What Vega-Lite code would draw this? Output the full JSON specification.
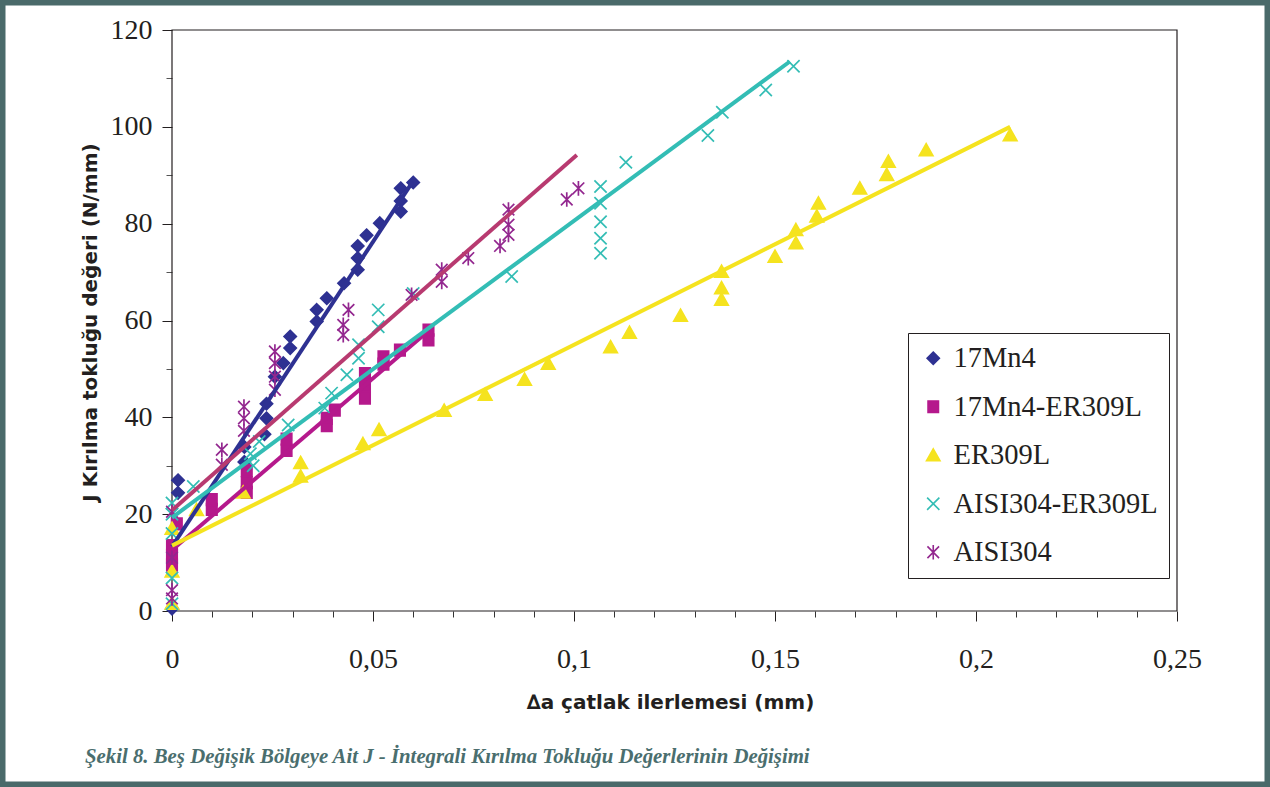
{
  "$schema": "https://vega.github.io/schema/vega-lite/v6.json",
  "width": 1270,
  "height": 787,
  "autosize": {"type": "none"},
  "padding": 0,
  "background": "white",
  "config": {
    "view": {"stroke": "#4A6A6A", "strokeWidth": 11, "fill": "white"},
    "axis": {"grid": false, "domain": false, "labelFont": "Liberation Serif", "labelFontSize": 28, "labelColor": "#231F20", "tickColor": "#231F20", "tickWidth": 1, "titleFont": "DejaVu Sans", "titleFontWeight": "bold", "titleFontSize": 20, "titleColor": "#231F20", "labelOverlap": false, "labelFlush": false},
    "legend": {"orient": "none", "legendX": 908, "legendY": 333, "padding": 11, "strokeColor": "#231F20", "strokeWidth": 1, "fillColor": "white", "labelFont": "Liberation Serif", "labelFontSize": 28.5, "labelColor": "#231F20", "symbolSize": 150, "symbolStrokeWidth": 1.6, "rowPadding": 19.5, "labelOffset": 6, "symbolOffset": 0, "labelLimit": 400}
  },
  "title": {
    "text": "Şekil 8. Beş Değişik Bölgeye Ait J - İntegrali Kırılma Tokluğu Değerlerinin Değişimi",
    "orient": "bottom", "anchor": "start", "frame": "group",
    "font": "Liberation Serif", "fontSize": 20.8, "fontStyle": "italic", "fontWeight": "bold",
    "color": "#4A6E6E", "offset": -30, "dx": 85, "baseline": "middle"
  },
  "datasets": {
    "pts": [
      {"s": "17Mn4", "x": 0, "y": 0.5},
      {"s": "17Mn4", "x": 0.0015, "y": 24.4},
      {"s": "17Mn4", "x": 0.0015, "y": 27},
      {"s": "17Mn4", "x": 0.018, "y": 30.8},
      {"s": "17Mn4", "x": 0.018, "y": 33.9},
      {"s": "17Mn4", "x": 0.023, "y": 36.5},
      {"s": "17Mn4", "x": 0.0235, "y": 39.8},
      {"s": "17Mn4", "x": 0.0235, "y": 42.8},
      {"s": "17Mn4", "x": 0.0256, "y": 48.4},
      {"s": "17Mn4", "x": 0.0277, "y": 51.2},
      {"s": "17Mn4", "x": 0.0294, "y": 54.3},
      {"s": "17Mn4", "x": 0.0294, "y": 56.7},
      {"s": "17Mn4", "x": 0.036, "y": 59.8},
      {"s": "17Mn4", "x": 0.036, "y": 62.2},
      {"s": "17Mn4", "x": 0.0385, "y": 64.6},
      {"s": "17Mn4", "x": 0.0428, "y": 67.7},
      {"s": "17Mn4", "x": 0.0462, "y": 70.5},
      {"s": "17Mn4", "x": 0.0462, "y": 72.9},
      {"s": "17Mn4", "x": 0.0462, "y": 75.4},
      {"s": "17Mn4", "x": 0.0484, "y": 77.6},
      {"s": "17Mn4", "x": 0.0517, "y": 80.1},
      {"s": "17Mn4", "x": 0.0569, "y": 82.5},
      {"s": "17Mn4", "x": 0.0569, "y": 84.7},
      {"s": "17Mn4", "x": 0.0569, "y": 87.3},
      {"s": "17Mn4", "x": 0.06, "y": 88.5},
      {"s": "17Mn4-ER309L", "x": 0, "y": 9.5},
      {"s": "17Mn4-ER309L", "x": 0, "y": 11.5},
      {"s": "17Mn4-ER309L", "x": 0, "y": 13.5},
      {"s": "17Mn4-ER309L", "x": 0.0012, "y": 18},
      {"s": "17Mn4-ER309L", "x": 0.0099, "y": 21},
      {"s": "17Mn4-ER309L", "x": 0.0099, "y": 23},
      {"s": "17Mn4-ER309L", "x": 0.0186, "y": 24.5},
      {"s": "17Mn4-ER309L", "x": 0.0186, "y": 26.5},
      {"s": "17Mn4-ER309L", "x": 0.0186, "y": 29},
      {"s": "17Mn4-ER309L", "x": 0.0285, "y": 33.2},
      {"s": "17Mn4-ER309L", "x": 0.0285, "y": 35.5},
      {"s": "17Mn4-ER309L", "x": 0.0385, "y": 38.3},
      {"s": "17Mn4-ER309L", "x": 0.0385, "y": 39.8},
      {"s": "17Mn4-ER309L", "x": 0.0405, "y": 41.5},
      {"s": "17Mn4-ER309L", "x": 0.048, "y": 44},
      {"s": "17Mn4-ER309L", "x": 0.048, "y": 46.5},
      {"s": "17Mn4-ER309L", "x": 0.048, "y": 49},
      {"s": "17Mn4-ER309L", "x": 0.0526, "y": 51},
      {"s": "17Mn4-ER309L", "x": 0.0526, "y": 52.5},
      {"s": "17Mn4-ER309L", "x": 0.0567, "y": 53.9},
      {"s": "17Mn4-ER309L", "x": 0.0638, "y": 56},
      {"s": "17Mn4-ER309L", "x": 0.0638, "y": 58},
      {"s": "ER309L", "x": 0, "y": 1.5},
      {"s": "ER309L", "x": 0, "y": 8.2},
      {"s": "ER309L", "x": 0, "y": 17},
      {"s": "ER309L", "x": 0.0061, "y": 20.9},
      {"s": "ER309L", "x": 0.0177, "y": 24.5},
      {"s": "ER309L", "x": 0.032, "y": 27.8},
      {"s": "ER309L", "x": 0.032, "y": 30.6},
      {"s": "ER309L", "x": 0.0475, "y": 34.5},
      {"s": "ER309L", "x": 0.0515, "y": 37.4},
      {"s": "ER309L", "x": 0.0677, "y": 41.4},
      {"s": "ER309L", "x": 0.0779, "y": 44.7},
      {"s": "ER309L", "x": 0.0877, "y": 47.8},
      {"s": "ER309L", "x": 0.0936, "y": 51.1},
      {"s": "ER309L", "x": 0.1091, "y": 54.5},
      {"s": "ER309L", "x": 0.1138, "y": 57.5},
      {"s": "ER309L", "x": 0.1265, "y": 61},
      {"s": "ER309L", "x": 0.1367, "y": 64.3},
      {"s": "ER309L", "x": 0.1367, "y": 66.7},
      {"s": "ER309L", "x": 0.1367, "y": 70.1},
      {"s": "ER309L", "x": 0.15, "y": 73.2},
      {"s": "ER309L", "x": 0.1552, "y": 76},
      {"s": "ER309L", "x": 0.1552, "y": 78.7},
      {"s": "ER309L", "x": 0.1604, "y": 81.5},
      {"s": "ER309L", "x": 0.1608, "y": 84.2},
      {"s": "ER309L", "x": 0.1711, "y": 87.3},
      {"s": "ER309L", "x": 0.1778, "y": 90.1},
      {"s": "ER309L", "x": 0.1782, "y": 92.8},
      {"s": "ER309L", "x": 0.1876, "y": 95.2},
      {"s": "ER309L", "x": 0.2085, "y": 98.3},
      {"s": "AISI304-ER309L", "x": 0, "y": 1.5},
      {"s": "AISI304-ER309L", "x": 0, "y": 6.8},
      {"s": "AISI304-ER309L", "x": 0, "y": 16},
      {"s": "AISI304-ER309L", "x": 0, "y": 20},
      {"s": "AISI304-ER309L", "x": 0, "y": 22.3},
      {"s": "AISI304-ER309L", "x": 0.0053, "y": 25.7},
      {"s": "AISI304-ER309L", "x": 0.0195, "y": 32.5},
      {"s": "AISI304-ER309L", "x": 0.0202, "y": 30},
      {"s": "AISI304-ER309L", "x": 0.0217, "y": 35},
      {"s": "AISI304-ER309L", "x": 0.0289, "y": 38.4},
      {"s": "AISI304-ER309L", "x": 0.038, "y": 41.9},
      {"s": "AISI304-ER309L", "x": 0.0397, "y": 45},
      {"s": "AISI304-ER309L", "x": 0.0435, "y": 48.8},
      {"s": "AISI304-ER309L", "x": 0.0464, "y": 52.2},
      {"s": "AISI304-ER309L", "x": 0.0464, "y": 55},
      {"s": "AISI304-ER309L", "x": 0.0513, "y": 58.7},
      {"s": "AISI304-ER309L", "x": 0.0513, "y": 62.2},
      {"s": "AISI304-ER309L", "x": 0.06, "y": 65.6},
      {"s": "AISI304-ER309L", "x": 0.0845, "y": 69.1},
      {"s": "AISI304-ER309L", "x": 0.1066, "y": 73.9},
      {"s": "AISI304-ER309L", "x": 0.1066, "y": 77},
      {"s": "AISI304-ER309L", "x": 0.1066, "y": 80.4},
      {"s": "AISI304-ER309L", "x": 0.1066, "y": 84.2},
      {"s": "AISI304-ER309L", "x": 0.1066, "y": 87.7},
      {"s": "AISI304-ER309L", "x": 0.1129, "y": 92.7},
      {"s": "AISI304-ER309L", "x": 0.1333, "y": 98.2},
      {"s": "AISI304-ER309L", "x": 0.1369, "y": 103},
      {"s": "AISI304-ER309L", "x": 0.1477, "y": 107.6},
      {"s": "AISI304-ER309L", "x": 0.1546, "y": 112.5},
      {"s": "AISI304", "x": 0, "y": 2.6},
      {"s": "AISI304", "x": 0, "y": 4.3},
      {"s": "AISI304", "x": 0, "y": 11},
      {"s": "AISI304", "x": 0, "y": 20.5},
      {"s": "AISI304", "x": 0.0124, "y": 30.2},
      {"s": "AISI304", "x": 0.0124, "y": 33.3},
      {"s": "AISI304", "x": 0.0179, "y": 37.2},
      {"s": "AISI304", "x": 0.0179, "y": 39.8},
      {"s": "AISI304", "x": 0.0179, "y": 42.2},
      {"s": "AISI304", "x": 0.0256, "y": 45.7},
      {"s": "AISI304", "x": 0.0256, "y": 48.4},
      {"s": "AISI304", "x": 0.0256, "y": 51.2},
      {"s": "AISI304", "x": 0.0256, "y": 53.6},
      {"s": "AISI304", "x": 0.0426, "y": 57},
      {"s": "AISI304", "x": 0.0426, "y": 59.1},
      {"s": "AISI304", "x": 0.0439, "y": 62.2},
      {"s": "AISI304", "x": 0.0596, "y": 65.3},
      {"s": "AISI304", "x": 0.0671, "y": 68},
      {"s": "AISI304", "x": 0.0671, "y": 70.5},
      {"s": "AISI304", "x": 0.0737, "y": 72.9},
      {"s": "AISI304", "x": 0.0816, "y": 75.4},
      {"s": "AISI304", "x": 0.0837, "y": 77.7},
      {"s": "AISI304", "x": 0.0837, "y": 79.8},
      {"s": "AISI304", "x": 0.0837, "y": 82.9},
      {"s": "AISI304", "x": 0.0982, "y": 85},
      {"s": "AISI304", "x": 0.1011, "y": 87.3}
    ],
    "fits": [
      {"s": "17Mn4", "x": 0, "y": 13.3},
      {"s": "17Mn4", "x": 0.0598, "y": 88.6},
      {"s": "17Mn4-ER309L", "x": 0, "y": 12.6},
      {"s": "17Mn4-ER309L", "x": 0.064, "y": 58},
      {"s": "ER309L", "x": 0, "y": 13.5},
      {"s": "ER309L", "x": 0.2085, "y": 100},
      {"s": "AISI304-ER309L", "x": 0, "y": 19.3},
      {"s": "AISI304-ER309L", "x": 0.1537, "y": 113.5},
      {"s": "AISI304", "x": 0, "y": 20.8},
      {"s": "AISI304", "x": 0.1007, "y": 94.2}
    ]
  },
  "resolve": {"axis": {"x": "independent", "y": "independent"}},
  "layer": [
    {
      "data": {"values": [{}]},
      "mark": {"type": "rect", "fillOpacity": 0, "stroke": "#231F20", "strokeWidth": 1.2},
      "encoding": {
        "x": {"datum": 0, "type": "quantitative", "scale": {"domain": [-0.042786, 0.273134], "nice": false, "zero": false},
              "axis": {"orient": "bottom", "offset": -176, "values": [0.01, 0.02, 0.03, 0.04, 0.06, 0.07, 0.08, 0.09, 0.11, 0.12, 0.13, 0.14, 0.16, 0.17, 0.18, 0.19, 0.21, 0.22, 0.23, 0.24], "tickSize": 6, "labels": false, "title": null, "tickColor": "#333"}},
        "x2": {"datum": 0.25},
        "y": {"datum": 0, "type": "quantitative", "scale": {"domain": [-36.35, 126.2], "nice": false, "zero": false},
              "axis": {"orient": "left", "offset": -172, "values": [10, 30, 50, 70, 90, 110], "tickSize": 6, "labels": false, "title": null, "tickColor": "#555"}},
        "y2": {"datum": 120}
      }
    },
    {
      "data": {"name": "pts"},
      "mark": {"type": "point", "size": 150, "strokeWidth": 1.7, "opacity": 1},
      "encoding": {
        "x": {"field": "x", "type": "quantitative", "scale": {"domain": [-0.042786, 0.273134], "nice": false, "zero": false},
              "axis": {"orient": "bottom", "offset": -176, "values": [0, 0.05, 0.1, 0.15, 0.2, 0.25], "tickSize": 10, "labelPadding": 24,
                       "labelExpr": "replace(toString(datum.value), '.', ',')",
                       "title": "∆a çatlak ilerlemesi (mm)", "titleX": 670, "titleY": 91, "titleAlign": "center", "titleBaseline": "middle"}},
        "y": {"field": "y", "type": "quantitative", "scale": {"domain": [-36.35, 126.2], "nice": false, "zero": false},
              "axis": {"orient": "left", "offset": -172, "values": [0, 20, 40, 60, 80, 100, 120], "tickSize": 10, "labelPadding": 10,
                       "title": "J Kırılma tokluğu değeri (N/mm)", "titleX": -82, "titleY": 322, "titleAngle": -90, "titleAlign": "center", "titleBaseline": "middle"}},
        "shape": {"field": "s", "type": "nominal", "legend": {"title": null},
                  "scale": {"domain": ["17Mn4", "17Mn4-ER309L", "ER309L", "AISI304-ER309L", "AISI304"],
                            "range": ["M0,-1L1,0L0,1L-1,0Z", "M-0.85,-0.95L0.85,-0.95L0.85,0.95L-0.85,0.95Z", "M0,-1.05L1.1,0.9L-1.1,0.9Z", "M-1,-1L1,1M-1,1L1,-1", "M-0.95,-0.95L0.95,0.95M-0.95,0.95L0.95,-0.95M0,-1.2L0,1.2"]}},
        "fill": {"field": "s", "type": "nominal", "legend": {"title": null},
                 "scale": {"domain": ["17Mn4", "17Mn4-ER309L", "ER309L", "AISI304-ER309L", "AISI304"],
                           "range": ["#2E3192", "#B5198C", "#F5E31F", "transparent", "transparent"]}},
        "stroke": {"field": "s", "type": "nominal", "legend": {"title": null},
                   "scale": {"domain": ["17Mn4", "17Mn4-ER309L", "ER309L", "AISI304-ER309L", "AISI304"],
                             "range": ["#2E3192", "#B5198C", "#F5E31F", "#33BDB5", "#93278F"]}}
      }
    },
    {
      "data": {"name": "fits"},
      "mark": {"type": "line", "strokeWidth": 4, "strokeCap": "butt"},
      "encoding": {
        "x": {"field": "x", "type": "quantitative", "scale": {"domain": [-0.042786, 0.273134], "nice": false, "zero": false}, "axis": null},
        "y": {"field": "y", "type": "quantitative", "scale": {"domain": [-36.35, 126.2], "nice": false, "zero": false}, "axis": null},
        "color": {"field": "s", "type": "nominal", "legend": null,
                  "scale": {"domain": ["17Mn4", "17Mn4-ER309L", "ER309L", "AISI304-ER309L", "AISI304"],
                            "range": ["#2E3192", "#B5198C", "#F5E31F", "#33BDB5", "#B83A70"]}}
      }
    }
  ]
}
